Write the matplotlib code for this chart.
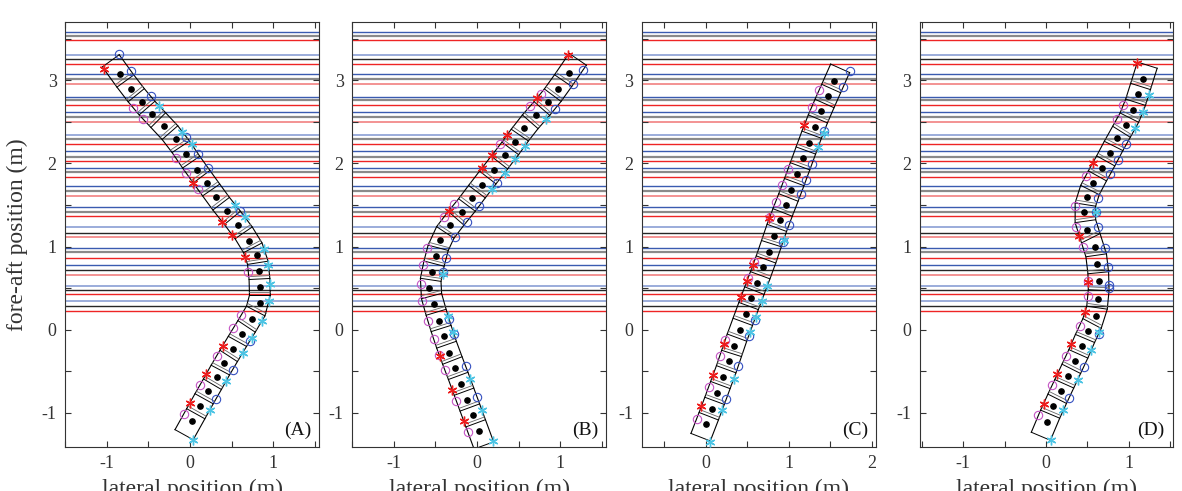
import numpy as np
import matplotlib
matplotlib.use("Agg")
import matplotlib.pyplot as plt
from matplotlib.ticker import MultipleLocator, FuncFormatter

plt.rcParams['font.family'] = ['Liberation Serif', 'DejaVu Serif']

# rung lines of the ladder (fore-aft positions, m)
blue_y = [3.58, 3.07, 2.80, 2.62, 2.15, 1.95, 1.73, 1.47, 0.98, 0.78]
blue_light_y = [3.30, 2.34, 1.23, 0.53, 0.34]
red_y = [3.48, 3.19, 2.70, 2.23, 2.03, 1.84, 1.37, 0.86, 0.43, 0.23]
red_light_y = [2.96, 2.50, 1.61, 1.11, 0.66]
gray_y = [3.53, 3.02, 2.76, 2.56, 2.29, 2.08, 1.90, 1.67, 1.42, 0.93]
black_y = [3.25, 1.16, 0.72, 0.48, 0.29]

# body centre path for each trial
A_x = [0.02, 0.12, 0.22, 0.32, 0.41, 0.52, 0.62, 0.74, 0.84, 0.84, 0.83, 0.80, 0.71,
       0.58, 0.44, 0.31, 0.20, 0.08, -0.05, -0.17, -0.31, -0.45, -0.58, -0.71, -0.84]
A_y = [-1.10, -0.92, -0.74, -0.57, -0.40, -0.23, -0.05, 0.13, 0.32, 0.51, 0.71, 0.90, 1.07,
       1.26, 1.43, 1.60, 1.76, 1.92, 2.11, 2.29, 2.45, 2.59, 2.74, 2.90, 3.08]
B_x = [0.02, -0.05, -0.12, -0.19, -0.26, -0.33, -0.40, -0.46, -0.52, -0.57, -0.54, -0.49, -0.44,
       -0.32, -0.18, -0.06, 0.06, 0.20, 0.34, 0.46, 0.57, 0.71, 0.85, 0.97, 1.10]
B_y = [-1.22, -1.03, -0.84, -0.65, -0.46, -0.28, -0.08, 0.11, 0.31, 0.50, 0.70, 0.89, 1.08,
       1.26, 1.42, 1.58, 1.74, 1.92, 2.10, 2.26, 2.42, 2.58, 2.74, 2.90, 3.09]
C_x = [0.00, 0.07, 0.14, 0.21, 0.28, 0.34, 0.41, 0.48, 0.55, 0.62, 0.69, 0.76,
       0.82, 0.89, 0.96, 1.03, 1.10, 1.17, 1.24, 1.31, 1.39, 1.47, 1.55]
C_y = [-1.13, -0.95, -0.76, -0.57, -0.38, -0.19, 0.00, 0.19, 0.38, 0.56, 0.75, 0.94,
       1.13, 1.32, 1.50, 1.68, 1.87, 2.06, 2.25, 2.44, 2.63, 2.81, 2.99]
D_x = [0.01, 0.09, 0.18, 0.26, 0.35, 0.43, 0.51, 0.60, 0.63, 0.64, 0.62, 0.59,
       0.49, 0.46, 0.49, 0.57, 0.67, 0.77, 0.86, 0.96, 1.05, 1.11, 1.17]
D_y = [-1.11, -0.92, -0.74, -0.56, -0.38, -0.20, -0.01, 0.16, 0.37, 0.58, 0.79, 1.00,
       1.20, 1.41, 1.60, 1.76, 1.94, 2.12, 2.30, 2.46, 2.64, 2.83, 3.02]

# foot contacts (fore-aft position along left / right edge)
A_left_o = [2.67, 2.53, 2.07, 1.89, 1.69, 0.70, 0.18, 0.02, -0.31, -0.67, -1.01]
A_left_star = [3.13, 1.77, 1.30, 1.14, 0.87, -0.19, -0.53, -0.88]
A_right_o = [3.31, 3.11, 2.81, 2.32, 2.11, 1.95, 1.43, -0.13, -0.48, -0.83]
A_right_star = [2.69, 2.38, 2.23, 1.50, 1.35, 0.97, 0.78, 0.55, 0.35, 0.11, -0.10, -0.28,
                -0.62, -0.97, -1.32]
B_left_o = [2.84, 2.69, 2.23, 1.51, 1.35, 0.98, 0.78, 0.55, 0.35, 0.11, -0.11, -0.30,
            -0.48, -0.86, -1.23]
B_left_star = [3.30, 2.79, 2.34, 2.10, 1.94, 1.43, -0.32, -0.72, -1.10]
B_right_o = [3.12, 2.95, 2.65, 1.77, 1.49, 1.30, 1.12, 0.86, 0.69, 0.13, -0.05, -0.44, -0.81]
B_right_star = [2.53, 2.21, 2.05, 1.89, 1.69, 0.67, 0.17, -0.03, -0.59, -0.97, -1.34]
C_left_o = [-1.07, -0.69, -0.31, -0.12, 0.62, 0.82, 1.36, 1.54, 1.74, 1.93, 2.68, 2.88]
C_left_star = [-0.92, -0.55, -0.17, 0.39, 0.58, 0.78, 1.34, 2.46]
C_right_o = [-0.83, -0.44, -0.07, 0.12, 1.06, 1.26, 1.63, 1.80, 1.99, 2.39, 2.92, 3.11]
C_right_star = [-1.35, -0.97, -0.59, -0.03, 0.15, 0.35, 0.53, 1.08, 2.20, 2.37]
D_left_o = [2.70, 2.53, 1.85, 1.49, 1.24, 0.99, 0.59, 0.40, 0.05, -0.31, -0.67, -1.03]
D_left_star = [3.21, 2.01, 1.13, 0.57, 0.21, -0.17, -0.53, -0.89]
D_right_o = [2.23, 2.04, 1.87, 1.58, 1.41, 1.24, 0.98, 0.76, 0.54, 0.50, -0.05, -0.45, -0.82]
D_right_star = [2.82, 2.62, 2.42, 1.41, -0.03, -0.24, -0.60, -0.97, -1.32]

panel_labels = ['(A)', '(B)', '(C)', '(D)']
xlims = [(-1.5, 1.55), (-1.5, 1.55), (-0.77, 2.05), (-1.52, 1.53)]
ylim = (-1.41, 3.70)

panels = [
    (A_x, A_y, A_left_o, A_left_star, A_right_o, A_right_star),
    (B_x, B_y, B_left_o, B_left_star, B_right_o, B_right_star),
    (C_x, C_y, C_left_o, C_left_star, C_right_o, C_right_star),
    (D_x, D_y, D_left_o, D_left_star, D_right_o, D_right_star),
]

# axes boxes in figure fraction
boxes = [(0.055, 0.0896, 0.2149, 0.8656),
         (0.2978, 0.0896, 0.2149, 0.8656),
         (0.5431, 0.0896, 0.1980, 0.8656),
         (0.7783, 0.0896, 0.2140, 0.8656)]

HW = 0.125  # half width of body strip
TXT = '#333333'
ASTER = (6, 2, 0)


def unit(v):
    return v / np.linalg.norm(v, axis=-1, keepdims=True)


def draw_body(ax, xs, ys, lo, ls, ro, rs):
    P = np.column_stack([xs, ys])
    seg = P[1:] - P[:-1]
    step = np.linalg.norm(seg, axis=1)
    t_mid = unit(seg)
    start = P[0] - t_mid[0] * step[0] * 0.9
    end = P[-1] + t_mid[-1] * step[-1] * 0.85
    R = np.vstack([start, (P[:-1] + P[1:]) / 2, end])
    T = np.vstack([t_mid[0], t_mid, t_mid[-1]])
    N = np.column_stack([-T[:, 1], T[:, 0]])
    L = R + HW * N
    Rr = R - HW * N
    ax.plot(L[:, 0], L[:, 1], color='k', lw=0.8, zorder=3)
    ax.plot(Rr[:, 0], Rr[:, 1], color='k', lw=0.8, zorder=3)
    off = np.vstack([T[0] * 0.0, T[1:-1] * 0.035, T[-1] * 0.0])
    L2, R2 = L + 0.9 * HW * 0 + off, Rr + off
    for i in range(len(R)):
        ax.plot([L[i, 0], Rr[i, 0]], [L[i, 1], Rr[i, 1]], color='k', lw=0.7, zorder=3)
        if 0 < i < len(R) - 1:
            ax.plot([L2[i, 0], R2[i, 0]], [L2[i, 1], R2[i, 1]], color='#666666', lw=0.6, zorder=3)
    ax.plot(xs, ys, 'o', color='k', ms=3.8, zorder=4)

    def on_edge(E, yv):
        o = np.argsort(E[:, 1])
        return np.interp(yv, E[o, 1], E[o, 0])

    ax.plot(on_edge(L, lo), lo, 'o', mfc='none', mec='#c455c4', ms=6, mew=0.8, zorder=5)
    ax.plot(on_edge(L, ls), ls, ls='none', marker=ASTER, color='#ee1c1c', ms=7, mew=1.0, zorder=5)
    ax.plot(on_edge(Rr, ro), ro, 'o', mfc='none', mec='#3550c0', ms=6, mew=0.8, zorder=5)
    ax.plot(on_edge(Rr, rs), rs, ls='none', marker=ASTER, color='#4cc4e4', ms=7, mew=1.0, zorder=5)


def int_only(v, pos):
    if abs(v - round(v)) < 1e-6:
        return str(int(round(v)))
    return ''


fig = plt.figure(figsize=(11.82, 4.91), dpi=100)

for k, (box, data) in enumerate(zip(boxes, panels)):
    ax = fig.add_axes(box)
    for y in gray_y:
        ax.axhline(y, color='#8a8a8a', lw=1.6, zorder=1)
    for y in black_y:
        ax.axhline(y, color='#262626', lw=1.0, zorder=1)
    for y in blue_y:
        ax.axhline(y, color='#3a5bb0', lw=1.0, zorder=1)
    for y in blue_light_y:
        ax.axhline(y, color='#93a6d8', lw=1.3, zorder=1)
    for y in red_y:
        ax.axhline(y, color='#ee2424', lw=1.0, zorder=1)
    for y in red_light_y:
        ax.axhline(y, color='#f28a8a', lw=1.3, zorder=1)

    draw_body(ax, *data)

    ax.set_xlim(*xlims[k])
    ax.set_ylim(*ylim)
    ax.xaxis.set_major_locator(MultipleLocator(0.5))
    ax.yaxis.set_major_locator(MultipleLocator(0.5))
    ax.xaxis.set_major_formatter(FuncFormatter(int_only))
    ax.yaxis.set_major_formatter(FuncFormatter(int_only))
    ax.tick_params(direction='in', top=True, right=True, length=4, width=0.8,
                   labelsize=13, labelcolor=TXT, color='#333333', pad=6)
    for s in ax.spines.values():
        s.set_color('#333333')
        s.set_linewidth(0.8)
    ax.set_xlabel('lateral position (m)', fontsize=17, color=TXT, labelpad=5)
    if k == 0:
        ax.set_ylabel('fore-aft position (m)', fontsize=17, color=TXT, labelpad=10)
    ax.text(0.968, 0.04, panel_labels[k], transform=ax.transAxes, ha='right', va='center',
            fontsize=14, color='#111111', zorder=6)

fig.savefig('out.png', dpi=100)
